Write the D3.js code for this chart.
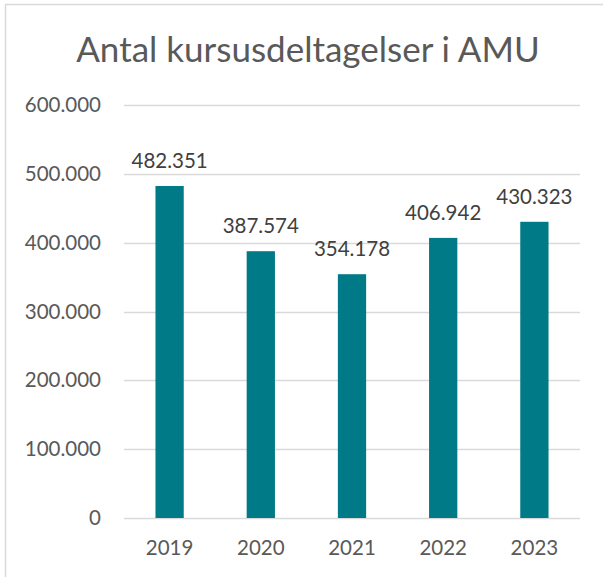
<!DOCTYPE html>
<html>
<head>
<meta charset="utf-8">
<script src="https://cdn.jsdelivr.net/npm/d3@7"></script>
<style>
  html, body { margin: 0; padding: 0; background: #fff; }
  svg { display: block; }
</style>
</head>
<body>
<div id="chart"></div>
<script>
const years = ["2019", "2020", "2021", "2022", "2023"];
const deltagelser = [482351, 387574, 354178, 406942, 430323];
const yTicks = [0, 100000, 200000, 300000, 400000, 500000, 600000];
const title = "Antal kursusdeltagelser i AMU";

const width = 603, height = 577;
const margin = { top: 105, right: 23, bottom: 59, left: 124 };
const font = "Lato, 'Noto Sans', sans-serif";
const labelSize = 20.5;

// danish thousands separator
const fmt = d3.formatLocale({ decimal: ",", thousands: ".", grouping: [3], currency: ["", " kr."] }).format(",d");

const svg = d3.select("#chart").append("svg")
    .attr("width", width)
    .attr("height", height);

// chart area border (only top + left visible in the crop)
svg.append("path")
    .attr("d", `M5.5,${height} V4.5 H${width}`)
    .attr("fill", "none")
    .attr("stroke", "#d9d9d9")
    .attr("stroke-width", 1.5);

const x = d3.scaleBand()
    .domain(years)
    .range([margin.left, width - margin.right])
    .paddingInner(0.69)
    .paddingOuter(0.345);

const y = d3.scaleLinear()
    .domain([0, 600000])
    .range([height - margin.bottom, margin.top]);

// gridlines
svg.append("g")
    .selectAll("line")
    .data(yTicks)
    .join("line")
        .attr("x1", margin.left)
        .attr("x2", width - margin.right)
        .attr("y1", d => Math.round(y(d)) + 0.5)
        .attr("y2", d => Math.round(y(d)) + 0.5)
        .attr("stroke", "#d9d9d9")
        .attr("stroke-width", 1.3);

// y axis labels
const yAxis = svg.append("g")
    .attr("transform", `translate(${margin.left - 23},0)`)
    .call(d3.axisLeft(y).tickValues(yTicks).tickFormat(fmt).tickSize(0).tickPadding(0));
yAxis.select(".domain").remove();
yAxis.selectAll("text")
    .attr("font-family", font)
    .attr("font-size", labelSize)
    .attr("fill", "#595959");

// x axis labels
const xAxis = svg.append("g")
    .attr("transform", `translate(0,${height - margin.bottom})`)
    .call(d3.axisBottom(x).tickSize(0).tickPadding(22));
xAxis.select(".domain").remove();
xAxis.selectAll("text")
    .attr("font-family", font)
    .attr("font-size", labelSize)
    .attr("fill", "#595959");

// bars
svg.append("g")
    .selectAll("rect")
    .data(deltagelser)
    .join("rect")
        .attr("x", (d, i) => x(years[i]))
        .attr("y", d => y(d))
        .attr("width", x.bandwidth())
        .attr("height", d => y(0) - y(d))
        .attr("fill", "#007A87");

// value labels
svg.append("g")
    .selectAll("text")
    .data(deltagelser)
    .join("text")
        .attr("x", (d, i) => x(years[i]) + x.bandwidth() / 2)
        .attr("y", d => y(d) - 18)
        .attr("text-anchor", "middle")
        .attr("font-family", font)
        .attr("font-size", labelSize)
        .attr("fill", "#404040")
        .text(d => fmt(d));

// title
svg.append("text")
    .attr("x", 308)
    .attr("y", 62)
    .attr("text-anchor", "middle")
    .attr("font-family", font)
    .attr("font-size", 35)
    .attr("fill", "#595959")
    .text(title);
</script>
</body>
</html>
